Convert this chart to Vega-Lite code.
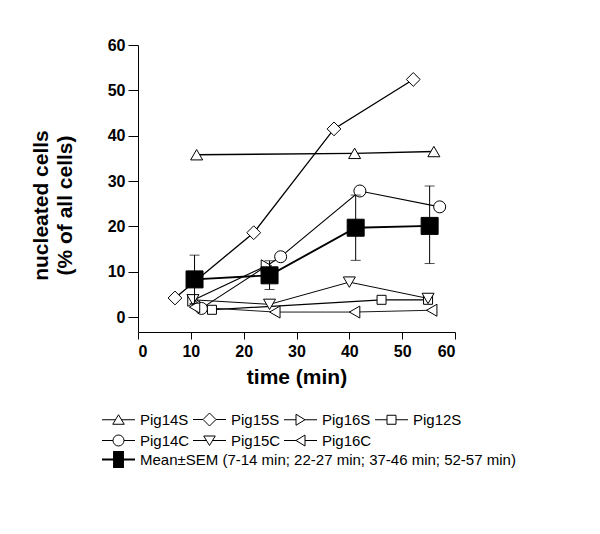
{
  "$schema": "https://vega.github.io/schema/vega-lite/v6.json",
  "width": 317,
  "height": 287,
  "autosize": {"type": "none"},
  "padding": {"left": 138, "top": 45, "right": 145, "bottom": 202},
  "background": "white",
  "datasets": {
    "series": [
      {"series": "Pig14S", "t": 11.1, "v": 35.8},
      {"series": "Pig14S", "t": 41.0, "v": 36.1},
      {"series": "Pig14S", "t": 56.0, "v": 36.5},
      {"series": "Pig15S", "t": 7.0, "v": 4.2},
      {"series": "Pig15S", "t": 21.9, "v": 18.6},
      {"series": "Pig15S", "t": 37.1, "v": 41.5},
      {"series": "Pig15S", "t": 52.1, "v": 52.4},
      {"series": "Pig16S", "t": 10.4, "v": 3.7},
      {"series": "Pig16S", "t": 24.3, "v": 11.3},
      {"series": "Pig12S", "t": 14.0, "v": 1.6},
      {"series": "Pig12S", "t": 46.1, "v": 3.8},
      {"series": "Pig12S", "t": 54.9, "v": 3.8},
      {"series": "Pig14C", "t": 12.0, "v": 1.9},
      {"series": "Pig14C", "t": 27.0, "v": 13.3},
      {"series": "Pig14C", "t": 42.0, "v": 27.8},
      {"series": "Pig14C", "t": 57.1, "v": 24.3},
      {"series": "Pig15C", "t": 10.4, "v": 3.8},
      {"series": "Pig15C", "t": 24.9, "v": 2.8},
      {"series": "Pig15C", "t": 40.0, "v": 7.7},
      {"series": "Pig15C", "t": 54.9, "v": 4.1},
      {"series": "Pig16C", "t": 10.7, "v": 2.2},
      {"series": "Pig16C", "t": 25.9, "v": 1.1},
      {"series": "Pig16C", "t": 41.0, "v": 1.1},
      {"series": "Pig16C", "t": 55.6, "v": 1.5}
    ],
    "mean": [
      {"label": "Mean±SEM (7-14 min; 22-27 min; 37-46 min; 52-57 min)", "t": 10.7, "v": 8.3, "lo": 3.0, "hi": 13.65},
      {"label": "Mean±SEM (7-14 min; 22-27 min; 37-46 min; 52-57 min)", "t": 24.9, "v": 9.2, "lo": 6.1, "hi": 12.4},
      {"label": "Mean±SEM (7-14 min; 22-27 min; 37-46 min; 52-57 min)", "t": 41.2, "v": 19.7, "lo": 12.5, "hi": 26.9},
      {"label": "Mean±SEM (7-14 min; 22-27 min; 37-46 min; 52-57 min)", "t": 55.2, "v": 20.1, "lo": 11.8, "hi": 28.9}
    ]
  },
  "encoding": {
    "x": {
      "field": "t", "type": "quantitative",
      "scale": {"domain": [0, 60], "nice": false, "zero": false},
      "axis": {
        "values": [0, 10, 20, 30, 40, 50, 60],
        "title": "time (min)",
        "tickSize": 7,
        "labelPadding": 4,
        "titlePadding": 7
      }
    },
    "y": {
      "field": "v", "type": "quantitative",
      "scale": {"domain": [-3.3, 60], "nice": false, "zero": false},
      "axis": {
        "values": [0, 10, 20, 30, 40, 50, 60],
        "title": ["nucleated cells", "(% of all cells)"],
        "tickSize": 10,
        "labelPadding": 3,
        "titlePadding": 32,
        "titleY": 160,
        "titleLineHeight": 24
      }
    }
  },
  "layer": [
    {
      "data": {"name": "series"},
      "transform": [{"filter": "datum.t < 0"}],
      "mark": {"type": "point", "filled": true, "fill": "white", "stroke": "black", "strokeWidth": 1, "opacity": 1},
      "encoding": {
        "shape": {
          "field": "series", "type": "nominal",
          "scale": {
            "domain": ["Pig14S", "Pig15S", "Pig16S", "Pig12S", "Pig14C", "Pig15C", "Pig16C"],
            "range": [
              "M-3.3,0H-0.55M0.55,0H3.3M0,-1L1.15,0.9L-1.15,0.9Z",
              "M-3.3,0H-1.3M1.3,0H3.3M-1.3,0L0,-1.3L1.3,0L0,1.3Z",
              "M-3.3,0H-0.9M0.9,0H3.3M-0.9,-1.1L0.9,0L-0.9,1.1Z",
              "M-3.3,0H-0.9M0.9,0H3.3M-0.9,-0.9H0.9V0.9H-0.9Z",
              "M-3.3,0H-1.1M1.1,0H3.3M-1.1,0A1.1,1.1,0,1,0,1.1,0A1.1,1.1,0,1,0,-1.1,0Z",
              "M-3.3,0H-0.55M0.55,0H3.3M0,1L1.15,-0.9L-1.15,-0.9Z",
              "M-3.3,0H-0.9M0.9,0H3.3M0.9,-1.1L-0.9,0L0.9,1.1Z"
            ]
          },
          "legend": {
            "title": null,
            "orient": "none",
            "legendX": -36,
            "legendY": 367,
            "direction": "horizontal",
            "columns": 4,
            "padding": 0,
            "rowPadding": 5,
            "columnPadding": 1,
            "symbolSize": 100,
            "symbolStrokeWidth": 1,
            "symbolOffset": 9,
            "labelOffset": 14,
            "labelFont": "Liberation Sans",
            "labelFontSize": 15,
            "labelColor": "black",
            "labelLimit": 0
          }
        }
      }
    },
    {
      "data": {"name": "mean"},
      "transform": [{"filter": "datum.t < 0"}],
      "mark": {"type": "point", "filled": true, "fill": "black", "stroke": "black", "strokeWidth": 1.9, "opacity": 1},
      "encoding": {
        "shape": {
          "field": "label", "type": "nominal",
          "scale": {
            "domain": ["Mean±SEM (7-14 min; 22-27 min; 37-46 min; 52-57 min)"],
            "range": ["M-3.3,0H3.3M-0.9,-1.5H0.9V1.5H-0.9Z"]
          },
          "legend": {
            "title": null,
            "orient": "none",
            "legendX": -36,
            "legendY": 407,
            "padding": 0,
            "symbolSize": 100,
            "symbolStrokeWidth": 1.9,
            "symbolOffset": 9,
            "labelOffset": 14,
            "labelFont": "Liberation Sans",
            "labelFontSize": 15,
            "labelColor": "black",
            "labelLimit": 0
          }
        }
      }
    },
    {
      "data": {"name": "series"},
      "mark": {"type": "line", "color": "black"},
      "encoding": {
        "detail": {"field": "series"},
        "strokeWidth": {
          "field": "series", "type": "nominal",
          "scale": {"domain": ["Pig14S", "Pig15S", "Pig16S", "Pig12S", "Pig14C", "Pig15C", "Pig16C"], "range": [1.4, 0.9, 1.4, 1.4, 1.4, 1.4, 1.4]},
          "legend": null
        }
      }
    },
    {
      "data": {"name": "mean"},
      "mark": {"type": "line", "color": "black", "strokeWidth": 1.9},
      "encoding": {}
    },
    {
      "data": {"name": "series"},
      "mark": {"type": "point", "filled": true, "fill": "white", "stroke": "black", "strokeWidth": 1, "opacity": 1, "size": 144},
      "encoding": {
        "shape": {
          "field": "series", "type": "nominal",
          "scale": {
            "domain": ["Pig14S", "Pig15S", "Pig16S", "Pig12S", "Pig14C", "Pig15C", "Pig16C"],
            "range": ["triangle-up", "M-1.15,0L0,-1.15L1.15,0L0,1.15Z", "triangle-right", "M-0.75,-0.75H0.75V0.75H-0.75Z", "circle", "triangle-down", "triangle-left"]
          },
          "legend": null
        }
      }
    },
    {
      "data": {"name": "mean"},
      "mark": {"type": "rule", "color": "black", "strokeWidth": 1},
      "encoding": {
        "y": {"field": "lo", "type": "quantitative"},
        "y2": {"field": "hi"}
      }
    },
    {
      "data": {"name": "mean"},
      "mark": {"type": "tick", "orient": "horizontal", "color": "black", "size": 10, "thickness": 1},
      "encoding": {"y": {"field": "lo", "type": "quantitative"}}
    },
    {
      "data": {"name": "mean"},
      "mark": {"type": "tick", "orient": "horizontal", "color": "black", "size": 10, "thickness": 1},
      "encoding": {"y": {"field": "hi", "type": "quantitative"}}
    },
    {
      "data": {"name": "mean"},
      "mark": {"type": "point", "shape": "square", "filled": true, "fill": "black", "stroke": "black", "strokeWidth": 1, "opacity": 1, "size": 289},
      "encoding": {}
    }
  ],
  "resolve": {"scale": {"shape": "independent"}},
  "config": {
    "view": {"stroke": null},
    "font": "Liberation Sans",
    "axis": {
      "grid": false,
      "domainColor": "black",
      "domainWidth": 1,
      "tickColor": "black",
      "tickWidth": 1,
      "labelFont": "Liberation Sans",
      "labelFontSize": 16,
      "labelFontWeight": "bold",
      "labelColor": "black",
      "titleFont": "Liberation Sans",
      "titleFontSize": 21,
      "titleFontWeight": "bold",
      "titleColor": "black"
    }
  }
}
